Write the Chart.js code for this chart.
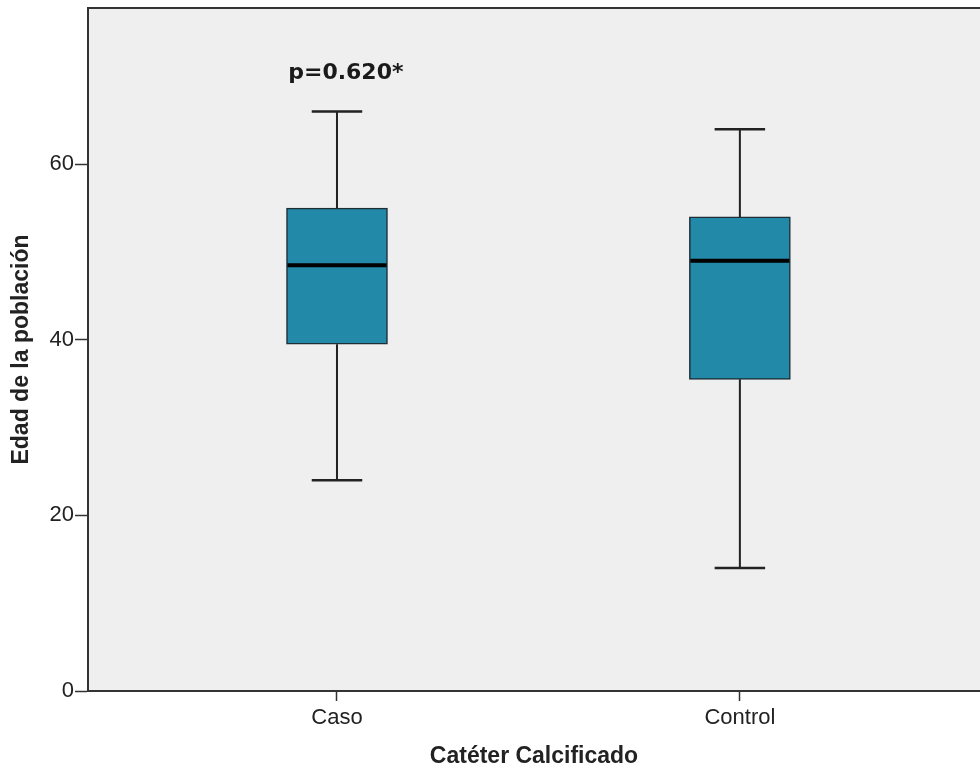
<!DOCTYPE html>
<html>
<head>
<meta charset="utf-8">
<script src="https://cdn.jsdelivr.net/npm/chart.js@4"></script>
<style>
  html, body { margin: 0; padding: 0; background: #fff; }
  #wrap { width: 980px; height: 770px; }
</style>
</head>
<body>
<div id="wrap"><canvas id="box"></canvas></div>
<script>
// data
const categories = ["Caso", "Control"];
const positions = [1, 2];
const whiskerLow = [24, 14];
const q1 = [39.5, 35.5];
const median = [48.5, 49];
const q3 = [55, 54];
const whiskerHigh = [66, 64];
const yTicks = [0, 20, 40, 60];
const note = "p=0.620*";
const noteAt = { x: 1.022, y: 70.4 };

const boxPlot = {
  id: "boxPlot",
  beforeDraw(chart) {
    const { ctx, chartArea: a } = chart;
    ctx.save();
    ctx.fillStyle = "#efefef";
    ctx.fillRect(a.left, a.top, chart.width - a.left, a.bottom - a.top);
    ctx.restore();
  },
  afterDatasetsDraw(chart) {
    const { ctx, chartArea: a, scales } = chart;
    const x = scales.x, y = scales.y;
    const bars = chart.getDatasetMeta(0).data;
    ctx.save();
    // top frame
    ctx.strokeStyle = "#333";
    ctx.lineWidth = 2;
    ctx.beginPath();
    ctx.moveTo(a.left, a.top);
    ctx.lineTo(chart.width, a.top);
    ctx.stroke();

    positions.forEach((p, i) => {
      const cx = x.getPixelForValue(p);
      const half = bars[i].width / 2;
      const cap = half * 0.5;
      ctx.strokeStyle = "#222";
      ctx.lineWidth = 2;
      ctx.beginPath();
      ctx.moveTo(cx, y.getPixelForValue(q3[i]));
      ctx.lineTo(cx, y.getPixelForValue(whiskerHigh[i]));
      ctx.moveTo(cx, y.getPixelForValue(q1[i]));
      ctx.lineTo(cx, y.getPixelForValue(whiskerLow[i]));
      ctx.stroke();
      ctx.lineWidth = 2.5;
      ctx.beginPath();
      ctx.moveTo(cx - cap, y.getPixelForValue(whiskerHigh[i]));
      ctx.lineTo(cx + cap, y.getPixelForValue(whiskerHigh[i]));
      ctx.moveTo(cx - cap, y.getPixelForValue(whiskerLow[i]));
      ctx.lineTo(cx + cap, y.getPixelForValue(whiskerLow[i]));
      ctx.stroke();
      // median
      ctx.strokeStyle = "#000";
      ctx.lineWidth = 4;
      ctx.beginPath();
      ctx.moveTo(cx - half + 1, y.getPixelForValue(median[i]));
      ctx.lineTo(cx + half - 1, y.getPixelForValue(median[i]));
      ctx.stroke();
    });

    ctx.fillStyle = "#1a1a1a";
    ctx.font = "bold 22px 'DejaVu Sans'";
    ctx.textAlign = "center";
    ctx.textBaseline = "middle";
    ctx.fillText(note, x.getPixelForValue(noteAt.x), y.getPixelForValue(noteAt.y));
    ctx.restore();
  }
};

new Chart(document.getElementById("box"), {
  type: "bar",
  plugins: [boxPlot],
  data: {
    datasets: [{
      data: positions.map((p, i) => ({ x: p, y: [q1[i], q3[i]] })),
      backgroundColor: "#2389a9",
      borderColor: "#1d2e35",
      borderWidth: 1.5,
      borderSkipped: false,
      barThickness: 101
    }]
  },
  options: {
    responsive: true,
    maintainAspectRatio: false,
    animation: false,
    layout: { padding: { top: 8, right: 0, bottom: 0, left: 0 } },
    plugins: { legend: { display: false }, tooltip: { enabled: false } },
    scales: {
      x: {
        type: "linear",
        min: 0.382,
        max: 2.596,
        offset: false,
        afterBuildTicks: s => { s.ticks = positions.map(v => ({ value: v })); },
        afterFit: s => { s.height = 79; s.paddingLeft = 0; s.paddingRight = 0; },
        ticks: {
          callback: v => categories[positions.indexOf(v)],
          font: { family: "'Liberation Sans'", size: 22 },
          color: "#222",
          padding: 4,
          maxRotation: 0
        },
        grid: { offset: false, drawOnChartArea: false, tickLength: 10, tickColor: "#333", tickWidth: 1.5 },
        border: { color: "#333", width: 2 },
        title: {
          display: true,
          text: "Catéter Calcificado",
          font: { family: "'Liberation Sans'", size: 23, weight: "bold" },
          color: "#222",
          padding: { top: 0, bottom: 0 }
        }
      },
      y: {
        min: 0,
        max: 77.8,
        afterBuildTicks: s => { s.ticks = yTicks.map(v => ({ value: v })); },
        afterFit: s => { s.width = 88; s.paddingTop = 0; s.paddingBottom = 0; },
        ticks: {
          font: { family: "'Liberation Sans'", size: 22 },
          color: "#222",
          padding: 1
        },
        grid: { drawOnChartArea: false, tickLength: 13, tickColor: "#333", tickWidth: 1.5 },
        border: { color: "#333", width: 2 },
        title: {
          display: true,
          text: "Edad de la población",
          font: { family: "'Liberation Sans'", size: 23, weight: "bold" },
          color: "#222",
          padding: { top: 8, bottom: 0 }
        }
      }
    }
  }
});
</script>
</body>
</html>
